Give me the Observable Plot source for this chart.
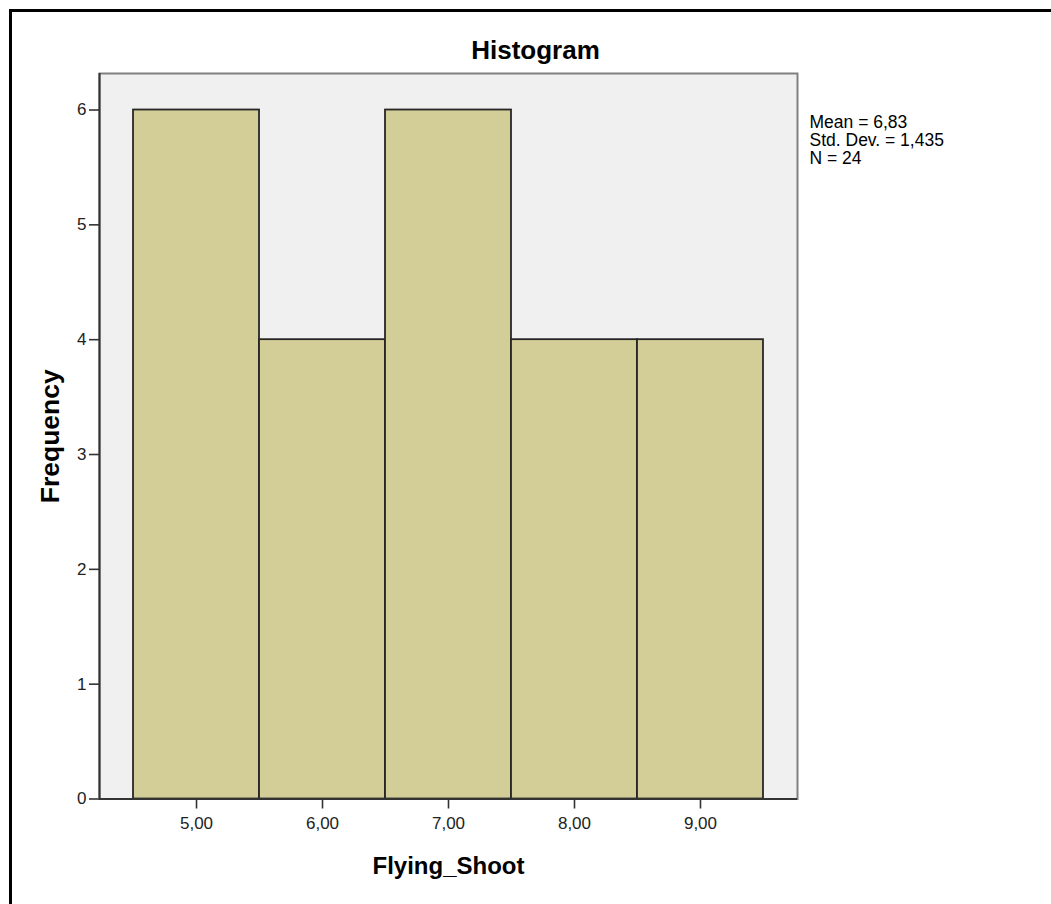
<!DOCTYPE html>
<html>
<head>
<meta charset="utf-8">
<script src="https://cdn.jsdelivr.net/npm/d3@7"></script>
<script src="https://cdn.jsdelivr.net/npm/@observablehq/plot@0.6"></script>
<style>
  html, body { margin: 0; padding: 0; background: #fff; }
  #wrap { position: relative; width: 1051px; height: 904px; overflow: hidden; }
  #border { position: absolute; left: 9px; top: 9px; right: -5px; bottom: -5px;
            border-left: 3px solid #000; border-top: 3px solid #000; pointer-events: none; }
</style>
</head>
<body>
<div id="wrap"><div id="border"></div></div>
<script>
// Data
const binStart = [4.5, 5.5, 6.5, 7.5, 8.5];
const binEnd   = [5.5, 6.5, 7.5, 8.5, 9.5];
const counts   = [6, 4, 6, 4, 4];
const xTicks   = [5, 6, 7, 8, 9];
const yTicks   = [0, 1, 2, 3, 4, 5, 6];
const statsLines = ["Mean = 6,83", "Std. Dev. = 1,435", "N = 24"];
const titleText = "Histogram";
const xLabel = "Flying_Shoot";
const yLabel = "Frequency";

const bins = binStart.map((s, i) => ({x1: s, x2: binEnd[i], count: counts[i]}));

const font = "'Liberation Sans', Arial, sans-serif";

const chart = Plot.plot({
  width: 1051,
  height: 904,
  marginLeft: 99,
  marginRight: 254,
  marginTop: 73,
  marginBottom: 105.5,
  style: {fontFamily: font, background: "transparent", color: "#222"},
  x: {domain: [4.23, 9.77]},
  y: {domain: [0, 6.318]},
  marks: [
    Plot.frame({fill: "#f0f0f0", stroke: "#808080", strokeWidth: 2}),
    Plot.rect(bins, {x1: "x1", x2: "x2", y1: 0, y2: "count", fill: "#d3ce97", stroke: "#262626", strokeWidth: 1.8}),
    Plot.ruleX([4.23], {stroke: "#333", strokeWidth: 2}),
    Plot.ruleY([0], {stroke: "#333", strokeWidth: 2}),
    Plot.axisX({ticks: xTicks, tickFormat: d => d.toFixed(2).replace(".", ","), tickSize: 10, tickPadding: 8,
                fontSize: 17, stroke: "#333", strokeWidth: 1.6, fill: "#222", label: null}),
    Plot.axisY({ticks: yTicks, tickFormat: d => String(d), tickSize: 10, tickPadding: 3,
                fontSize: 17, stroke: "#333", strokeWidth: 1.6, fill: "#222", label: null}),
    Plot.text([titleText], {frameAnchor: "top", lineAnchor: "top", dx: 87, dy: -33,
                fontSize: 26, fontWeight: "bold", fill: "#000"}),
    Plot.text([xLabel], {frameAnchor: "bottom", lineAnchor: "top", dy: 58,
                fontSize: 24, fontWeight: "bold", fill: "#000"}),
    Plot.text([yLabel], {frameAnchor: "left", textAnchor: "middle", lineAnchor: "middle", rotate: -90, dx: -49,
                fontSize: 26.5, fontWeight: "bold", fill: "#000"}),
    Plot.text([statsLines.join("\n")], {frameAnchor: "top-right", textAnchor: "start", lineAnchor: "top",
                dx: 12, dy: 42, fontSize: 17.5, lineHeight: 18 / 17.5, fill: "#000"})
  ]
});

document.getElementById("wrap").prepend(chart);
</script>
</body>
</html>
